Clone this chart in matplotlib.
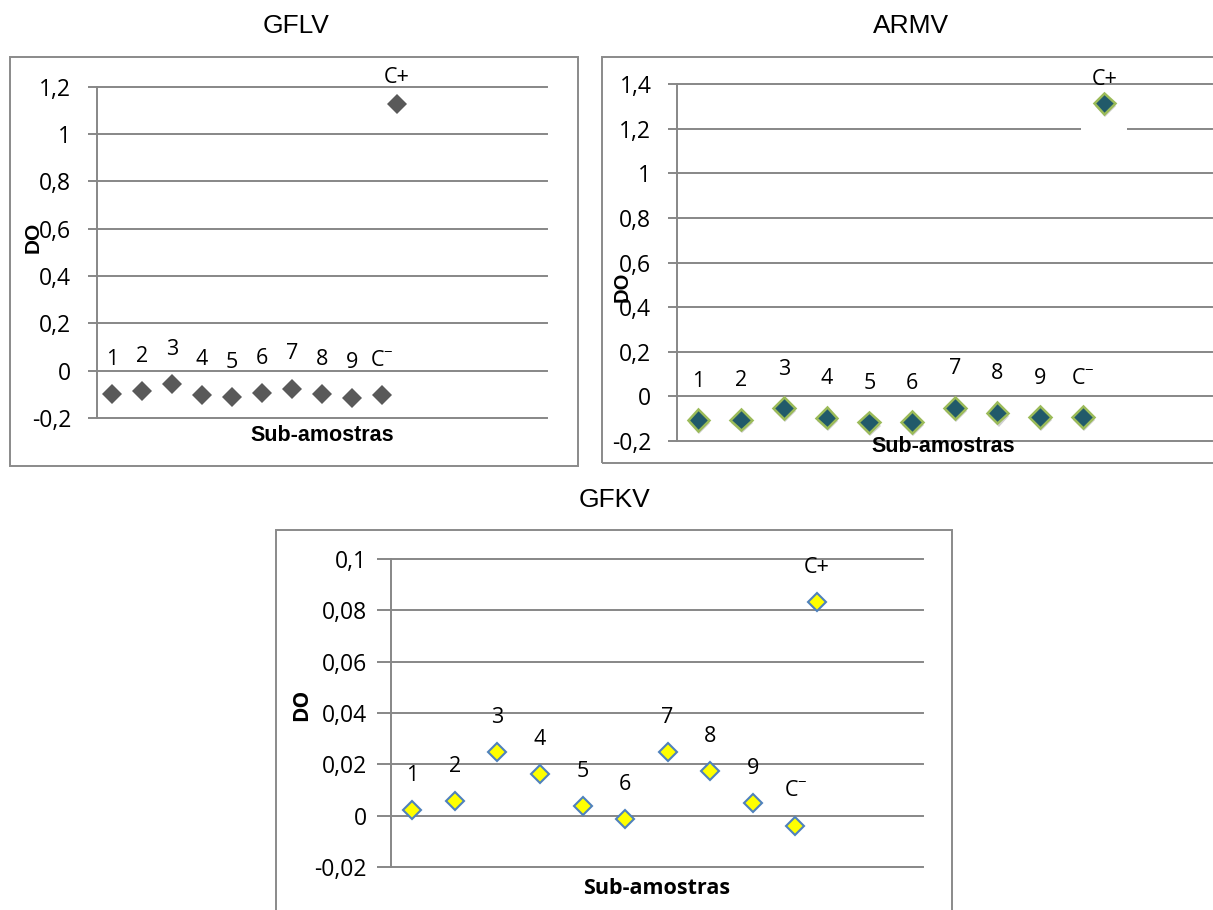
import matplotlib
matplotlib.use("Agg")
import matplotlib.pyplot as plt
import matplotlib.patheffects as pe
from matplotlib.patches import Rectangle

plt.rcParams["mathtext.fontset"] = "custom"
plt.rcParams["mathtext.rm"] = "Open Sans"
plt.rcParams["mathtext.it"] = "Open Sans"

W, H = 1213, 910

# ------- data -------
labels = ["1", "2", "3", "4", "5", "6", "7", "8", "9", "C$^{-}$"]
xpos = [1, 2, 3, 4, 5, 6, 7, 8, 9, 10]
cplus_x = 10.5

gflv = [-0.098, -0.085, -0.058, -0.101, -0.111, -0.094, -0.076, -0.098, -0.114, -0.104]
gflv_cplus = 1.126
gflv_ticks = [-0.2, 0, 0.2, 0.4, 0.6, 0.8, 1.0, 1.2]
gflv_ticklabels = ["-0,2", "0", "0,2", "0,4", "0,6", "0,8", "1", "1,2"]

armv = [-0.107, -0.104, -0.052, -0.095, -0.117, -0.116, -0.051, -0.073, -0.093, -0.093]
armv_cplus = 1.313
armv_ticks = [-0.2, 0, 0.2, 0.4, 0.6, 0.8, 1.0, 1.2, 1.4]
armv_ticklabels = ["-0,2", "0", "0,2", "0,4", "0,6", "0,8", "1", "1,2", "1,4"]

gfkv = [0.0022, 0.0057, 0.0247, 0.0162, 0.0036, -0.0013, 0.0247, 0.0173, 0.0048, -0.0039]
gfkv_cplus = 0.0831
gfkv_ticks = [-0.02, 0, 0.02, 0.04, 0.06, 0.08, 0.1]
gfkv_ticklabels = ["-0,02", "0", "0,02", "0,04", "0,06", "0,08", "0,1"]

GRID = "#878787"
NUMFONT = ["Open Sans", "DejaVu Sans"]
ARIAL = ["Liberation Sans", "DejaVu Sans"]

fig = plt.figure(figsize=(W / 100, H / 100), dpi=100)


def frame(l, t, r, b):
    # outer chart border, given in pixels from the top left
    fig.add_artist(Rectangle((l / W, 1 - b / H), (r - l) / W, (b - t) / H,
                             transform=fig.transFigure, fill=False,
                             edgecolor="#8a8a8a", lw=1.4))


def panel(l, t, r, b, xlim, ylim, ticks, ticklabels, ticklen=6.5, pad=12):
    ax = fig.add_axes([l / W, 1 - b / H, (r - l) / W, (b - t) / H])
    ax.set_xlim(*xlim)
    ax.set_ylim(*ylim)
    ax.set_axisbelow(True)
    for s in ["top", "right", "bottom"]:
        ax.spines[s].set_visible(False)
    ax.spines["left"].set_color(GRID)
    ax.spines["left"].set_linewidth(1.4)
    ax.set_xticks([])
    ax.set_yticks(ticks)
    ax.set_yticklabels(ticklabels, fontfamily=NUMFONT, fontsize=16.5)
    ax.tick_params(axis="y", direction="out", length=ticklen, width=1.4,
                   color=GRID, pad=pad)
    ax.yaxis.grid(True, color=GRID, lw=1.4)
    for gl in ax.get_ygridlines():
        gl.set_clip_on(False)
    ax.patch.set_alpha(0)
    return ax


def datalabels(ax, ys, cy, off, coff):
    for x, y, lab in zip(xpos, ys, labels):
        ax.annotate(lab, (x, y), xytext=(0, off), textcoords="offset points",
                    ha="center", va="center", fontsize=15.5, family=NUMFONT,
                    annotation_clip=False)
    ax.annotate("C+", (cplus_x, cy), xytext=(0, coff), textcoords="offset points",
                ha="center", va="center", fontsize=15.5, family=NUMFONT,
                annotation_clip=False)


# ------- GFLV -------
frame(9.5, 57, 578, 466)
ax1 = panel(97, 86.7, 547, 418, (0.5, 15.5), (-0.2, 1.2), gflv_ticks, gflv_ticklabels)
ax1.plot(xpos + [cplus_x], gflv + [gflv_cplus], ls="none", marker="D", ms=10.5,
         color="#595959", mew=0, clip_on=False, zorder=3)
datalabels(ax1, gflv, gflv_cplus, 25, 19.5)
fig.text(296 / W, 1 - 26 / H, "GFLV", ha="center", va="center", fontsize=19, family=ARIAL)
fig.text(322 / W, 1 - 435 / H, "Sub-amostras", ha="center", va="center",
         fontsize=15.5, fontweight="bold", family=ARIAL)
fig.text(33 / W, 1 - 237 / H, "DO", ha="center", va="center", rotation=90,
         fontsize=15, fontweight="bold", family=ARIAL)

# ------- ARMV -------
frame(602, 56.5, 1240, 462.5)
ax2 = panel(677, 84, 1212, 441, (0.5, 13.02), (-0.2, 1.4), armv_ticks, armv_ticklabels)
# white patch that hides the 1,2 gridline under the C+ point
ax2.add_patch(Rectangle((cplus_x - 0.55, 1.185), 1.08, 0.1, facecolor="white",
                        edgecolor="none", zorder=2))
ax2.plot(xpos + [cplus_x], armv + [armv_cplus], ls="none", marker="D", ms=11,
         markerfacecolor="#215a6a", markeredgecolor="#9bbb59", mew=1.8,
         clip_on=False, zorder=3,
         path_effects=[pe.SimplePatchShadow(offset=(0.8, -2.2), shadow_rgbFace="#444444",
                                            alpha=0.25), pe.Normal()])
datalabels(ax2, armv, armv_cplus, 28, 17.5)
fig.text(911 / W, 1 - 26 / H, "ARMV", ha="center", va="center", fontsize=19, family=ARIAL)
fig.text(943 / W, 1 - 447 / H, "Sub-amostras", ha="center", va="center",
         fontsize=15.5, fontweight="bold", family=ARIAL)
fig.text(622 / W, 1 - 287 / H, "DO", ha="center", va="center", rotation=90,
         fontsize=14.5, fontweight="bold", family=ARIAL)

# ------- GFKV -------
frame(275.5, 529.5, 952, 940)
ax3 = panel(391, 559, 923, 867, (0.5, 13.0), (-0.02, 0.1), gfkv_ticks, gfkv_ticklabels,
            ticklen=9.8, pad=7.4)
ax3.plot(xpos + [cplus_x], gfkv + [gfkv_cplus], ls="none", marker="D", ms=9.5,
         markerfacecolor="#ffff00", markeredgecolor="#4f81bd", mew=1.5,
         clip_on=False, zorder=3)
datalabels(ax3, gfkv, gfkv_cplus, 25, 25)
fig.text(615 / W, 1 - 500 / H, "GFKV", ha="center", va="center", fontsize=19, family=ARIAL)
fig.text(657 / W, 1 - 889 / H, "Sub-amostras", ha="center", va="center",
         fontsize=15.5, fontweight="bold", family=NUMFONT)
fig.text(302 / W, 1 - 705 / H, "DO", ha="center", va="center", rotation=90,
         fontsize=15, fontweight="bold", family=NUMFONT)

fig.savefig("out.png", dpi=100)
